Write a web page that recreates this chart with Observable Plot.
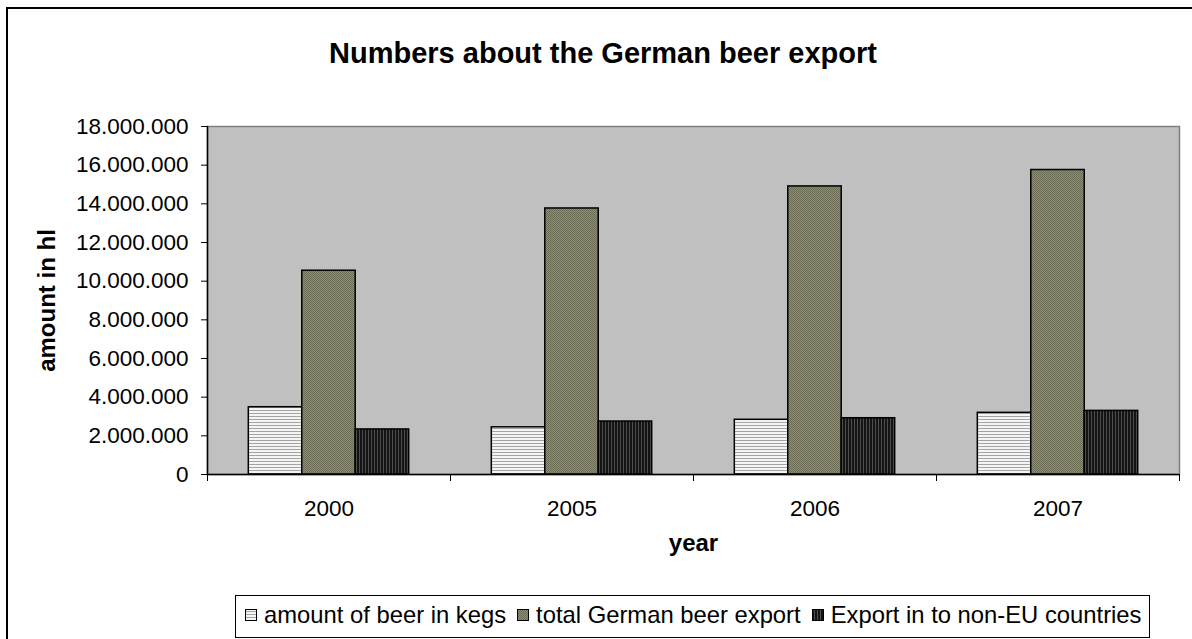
<!DOCTYPE html>
<html><head><meta charset="utf-8">
<script src="https://cdn.jsdelivr.net/npm/d3@7"></script>
<script src="https://cdn.jsdelivr.net/npm/@observablehq/plot@0.6"></script>
<style>
body{margin:0;width:1192px;height:639px;overflow:hidden;background:#fff;font-family:"Liberation Sans",Arial,sans-serif;position:relative}
#frame{position:absolute;left:6px;top:7px;width:1300px;height:800px;border:2px solid #000;box-sizing:border-box}
#title{position:absolute;left:7px;width:1192px;top:39px;text-align:center;font-weight:bold;font-size:29px;line-height:29px;color:#000}
#chart{position:absolute;left:0;top:90px}
#legend{position:absolute;left:235px;top:595px;width:915px;height:43px;border:1px solid #000;box-sizing:border-box;background:#fff;display:flex;align-items:center;padding-left:9px;padding-bottom:3px;font-size:23.8px;color:#000;white-space:nowrap}
.item{display:flex;align-items:center;margin-right:11px}
.item svg{margin-right:7px}
#defs{position:absolute;width:0;height:0;left:0;top:0}
</style></head>
<body>
<svg id="defs" width="0" height="0">
  <defs>
    <pattern id="pKeg" patternUnits="userSpaceOnUse" width="4" height="3">
      <rect width="4" height="3" fill="#f4f4f4"/>
      <rect y="2" width="4" height="1" fill="#a4a4a4"/>
    </pattern>
    <pattern id="pTotal" patternUnits="userSpaceOnUse" width="2" height="2">
      <rect width="2" height="2" fill="#8e8e72"/>
      <rect x="0" y="0" width="1" height="1" fill="#6c6c54"/>
      <rect x="1" y="1" width="1" height="1" fill="#6c6c54"/>
    </pattern>
    <pattern id="pNonEU" patternUnits="userSpaceOnUse" width="3" height="4">
      <rect width="3" height="4" fill="#141414"/>
      <rect x="2" width="1" height="4" fill="#4e4e4e"/>
    </pattern>
  </defs>
</svg>
<div id="frame"></div>
<div id="title"></div>
<div id="chart"></div>
<div id="legend"></div>
<script>
// ---- data ----
const years = ["2000", "2005", "2006", "2007"];
const seriesNames = ["amount of beer in kegs", "total German beer export", "Export in to non-EU countries"];
const kegs = [3480000, 2440000, 2830000, 3190000];
const totalExport = [10540000, 13760000, 14900000, 15750000];
const nonEU = [2330000, 2740000, 2910000, 3290000];
const yTicks = [0, 2000000, 4000000, 6000000, 8000000, 10000000, 12000000, 14000000, 16000000, 18000000];
const titleText = "Numbers about the German beer export";
const yLabel = "amount in hl";
const xLabel = "year";
const patterns = ["url(#pKeg)", "url(#pTotal)", "url(#pNonEU)"];

document.getElementById("title").textContent = titleText;

const locale = d3.formatLocale({decimal: ",", thousands: ".", grouping: [3], currency: ["", ""]});
const fmt = locale.format(",");

const W = 1192, H = 480, mL = 207, mR = 13, mT = 36, mB = 96;
const bw = (W - mL - mR) / years.length;
const barW = bw * 0.22;
const gStart = (bw - 3 * barW) / 2;

const valuesBySeries = [kegs, totalExport, nonEU];
const bars = valuesBySeries.map((vals, si) => {
  const data = years.map((y, i) => ({year: y, value: vals[i]}));
  const insetLeft = gStart + si * barW;
  const insetRight = bw - insetLeft - barW;
  return Plot.barY(data, {x: "year", y: "value", fill: patterns[si], stroke: "#000", strokeWidth: 1.5, insetLeft, insetRight});
});

const plot = Plot.plot({
  width: W, height: H,
  marginLeft: mL, marginRight: mR, marginTop: mT, marginBottom: mB,
  style: {fontFamily: "'Liberation Sans', Arial, sans-serif", color: "#000", background: "transparent", overflow: "visible"},
  x: {type: "band", domain: years, padding: 0, label: null},
  y: {domain: [0, 18000000], label: null},
  marks: [
    Plot.frame({fill: "#c0c0c0", stroke: "#808080", strokeWidth: 1.5}),
    ...bars,
    Plot.ruleY([0], {stroke: "#000", strokeWidth: 1.5}),
    Plot.ruleX([years[0]], {dx: -bw / 2, stroke: "#000", strokeWidth: 1.5}),
    Plot.axisY({ticks: yTicks, tickFormat: fmt, tickSize: 6, tickPadding: 13, fontSize: 22.5, label: null, stroke: "#000"}),
    Plot.axisX({tickSize: 0, tickPadding: 26, fontSize: 22.5, label: null}),
    Plot.axisX({tickSize: 7, tickFormat: () => "", dx: -bw / 2, label: null, stroke: "#000"}),
    Plot.axisX([years[years.length - 1]], {tickSize: 7, tickFormat: () => "", dx: bw / 2, label: null, stroke: "#000"}),
    Plot.text([xLabel], {text: d => d, frameAnchor: "bottom", dy: 76, fontWeight: "bold", fontSize: 24}),
    Plot.text([yLabel], {text: d => d, frameAnchor: "left", textAnchor: "middle", dx: -160, rotate: -90, fontWeight: "bold", fontSize: 24})
  ]
});
document.getElementById("chart").appendChild(plot);

const legend = document.getElementById("legend");
seriesNames.forEach((name, i) => {
  const item = document.createElement("div");
  item.className = "item";
  item.innerHTML = `<svg width="12" height="12"><rect x="0.5" y="0.5" width="11" height="11" fill="${patterns[i]}" stroke="#000" stroke-width="1"/></svg><span>${name}</span>`;
  legend.appendChild(item);
});
</script>
</body></html>
